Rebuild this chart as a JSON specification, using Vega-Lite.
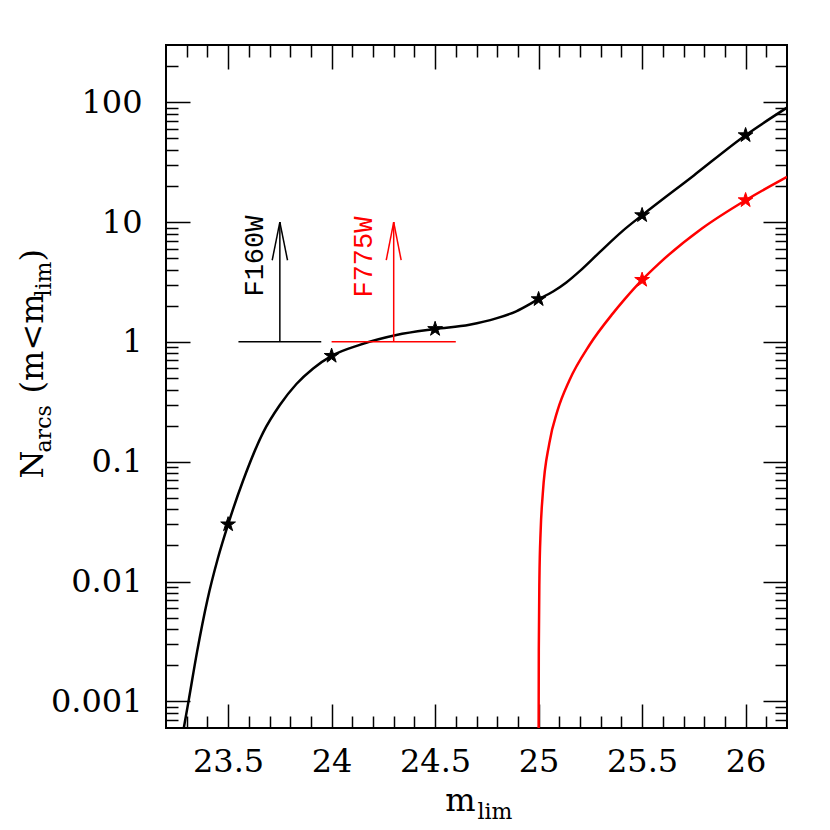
{
  "$schema": "https://vega.github.io/schema/vega-lite/v6.json",
  "width": 621,
  "height": 683,
  "autosize": {"type": "none"},
  "padding": {"left": 166, "top": 45, "right": 43, "bottom": 102},
  "background": "white",
  "config": {
    "view": {"stroke": "black", "strokeWidth": 2},
    "axis": {"grid": false, "domain": false, "tickColor": "black", "tickWidth": 1.5, "labelColor": "black", "titleColor": "black", "labelFont": "DejaVu Serif", "titleFont": "DejaVu Serif", "titleFontWeight": "normal", "labelOverlap": false, "labelFlush": false, "labelBound": false}
  },
  "datasets": {
    "curves": [
      {"m": 23.286, "n": 0.0006, "band": "F160W"},
      {"m": 23.31, "n": 0.00103, "band": "F160W"},
      {"m": 23.35, "n": 0.00259, "band": "F160W"},
      {"m": 23.4, "n": 0.00703, "band": "F160W"},
      {"m": 23.45, "n": 0.0155, "band": "F160W"},
      {"m": 23.5, "n": 0.03, "band": "F160W"},
      {"m": 23.573, "n": 0.07, "band": "F160W"},
      {"m": 23.669, "n": 0.175, "band": "F160W"},
      {"m": 23.75, "n": 0.297, "band": "F160W"},
      {"m": 23.83, "n": 0.445, "band": "F160W"},
      {"m": 23.911, "n": 0.6, "band": "F160W"},
      {"m": 24.0, "n": 0.764, "band": "F160W"},
      {"m": 24.136, "n": 0.944, "band": "F160W"},
      {"m": 24.313, "n": 1.14, "band": "F160W"},
      {"m": 24.5, "n": 1.28, "band": "F160W"},
      {"m": 24.666, "n": 1.39, "band": "F160W"},
      {"m": 24.795, "n": 1.57, "band": "F160W"},
      {"m": 24.892, "n": 1.8, "band": "F160W"},
      {"m": 25.0, "n": 2.27, "band": "F160W"},
      {"m": 25.07, "n": 2.63, "band": "F160W"},
      {"m": 25.134, "n": 3.13, "band": "F160W"},
      {"m": 25.2, "n": 3.91, "band": "F160W"},
      {"m": 25.294, "n": 5.58, "band": "F160W"},
      {"m": 25.405, "n": 8.4, "band": "F160W"},
      {"m": 25.5, "n": 11.4, "band": "F160W"},
      {"m": 25.75, "n": 24.5, "band": "F160W"},
      {"m": 26.0, "n": 53, "band": "F160W"},
      {"m": 26.2, "n": 90, "band": "F160W"},
      {"m": 25.000225, "n": 0.0006, "band": "F775W"},
      {"m": 25.001, "n": 0.00268, "band": "F775W"},
      {"m": 25.004, "n": 0.0107, "band": "F775W"},
      {"m": 25.01, "n": 0.0268, "band": "F775W"},
      {"m": 25.02, "n": 0.0535, "band": "F775W"},
      {"m": 25.052, "n": 0.143, "band": "F775W"},
      {"m": 25.092, "n": 0.269, "band": "F775W"},
      {"m": 25.149, "n": 0.479, "band": "F775W"},
      {"m": 25.245, "n": 0.937, "band": "F775W"},
      {"m": 25.358, "n": 1.72, "band": "F775W"},
      {"m": 25.414, "n": 2.25, "band": "F775W"},
      {"m": 25.5, "n": 3.29, "band": "F775W"},
      {"m": 25.58, "n": 4.48, "band": "F775W"},
      {"m": 25.789, "n": 8.83, "band": "F775W"},
      {"m": 26.0, "n": 15.2, "band": "F775W"},
      {"m": 26.176, "n": 22.6, "band": "F775W"},
      {"m": 26.2, "n": 23.8, "band": "F775W"}
    ],
    "stars": [
      {"m": 23.5, "n": 0.03, "band": "F160W"},
      {"m": 24.0, "n": 0.764, "band": "F160W"},
      {"m": 24.5, "n": 1.28, "band": "F160W"},
      {"m": 25.0, "n": 2.27, "band": "F160W"},
      {"m": 25.5, "n": 11.4, "band": "F160W"},
      {"m": 26.0, "n": 53, "band": "F160W"},
      {"m": 25.5, "n": 3.29, "band": "F775W"},
      {"m": 26.0, "n": 15.2, "band": "F775W"}
    ],
    "segments": [
      {"m": 23.55, "m2": 23.95, "n": 1, "n2": 1, "band": "F160W"},
      {"m": 23.75, "m2": 23.75, "n": 1, "n2": 10, "band": "F160W"},
      {"m": 23.75, "m2": 23.713, "n": 10, "n2": 4.8, "band": "F160W"},
      {"m": 23.75, "m2": 23.787, "n": 10, "n2": 4.8, "band": "F160W"},
      {"m": 24.0, "m2": 24.6, "n": 1, "n2": 1, "band": "F775W"},
      {"m": 24.3, "m2": 24.3, "n": 1, "n2": 10, "band": "F775W"},
      {"m": 24.3, "m2": 24.264, "n": 10, "n2": 4.8, "band": "F775W"},
      {"m": 24.3, "m2": 24.336, "n": 10, "n2": 4.8, "band": "F775W"}
    ],
    "labels": [
      {"m": 23.63, "n": 5.2, "band": "F160W"},
      {"m": 24.155, "n": 5.1, "band": "F775W"}
    ]
  },
  "resolve": {"axis": {"x": "independent", "y": "independent"}},
  "layer": [
    {
      "data": {"name": "curves"},
      "transform": [{"filter": "datum.band === 'F160W'"}],
      "mark": {"type": "line", "color": "black", "strokeWidth": 2.5, "interpolate": "monotone", "clip": true},
      "encoding": {
        "x": {"field": "m", "type": "quantitative", "scale": {"domain": [23.2, 26.2], "nice": false, "zero": false},
          "axis": {"orient": "bottom", "values": [23.5, 24, 24.5, 25, 25.5, 26], "format": "~g", "ticks": false, "labelPadding": 18, "labelFontSize": 32,
            "title": "m", "titleFontSize": 32, "titleX": 309, "titleY": 82, "titleAlign": "right", "titleBaseline": "alphabetic", "titleAngle": 0}},
        "y": {"field": "n", "type": "quantitative", "scale": {"type": "log", "domain": [0.0006, 300], "nice": false},
          "axis": {"orient": "left", "values": [0.001, 0.01, 0.1, 1, 10, 100], "format": ".3~f", "ticks": false, "labelPadding": 24, "labelFontSize": 32,
            "title": "N", "titleFontSize": 32, "titleX": -124, "titleY": 433, "titleAlign": "left", "titleBaseline": "alphabetic", "titleAngle": 270}}
      }
    },
    {
      "data": {"name": "curves"},
      "transform": [{"filter": "datum.band === 'F775W'"}],
      "mark": {"type": "line", "color": "#ff0000", "strokeWidth": 2.5, "interpolate": "monotone", "clip": true},
      "encoding": {
        "x": {"field": "m", "type": "quantitative", "scale": {"domain": [23.2, 26.2], "nice": false, "zero": false},
          "axis": {"orient": "bottom", "values": [23.5, 24, 24.5, 25, 25.5, 26], "labels": false, "tickSize": -24,
            "title": "lim", "titleFontSize": 22, "titleX": 311, "titleY": 90, "titleAlign": "left", "titleBaseline": "alphabetic", "titleAngle": 0}},
        "y": {"field": "n", "type": "quantitative", "scale": {"type": "log", "domain": [0.0006, 300], "nice": false},
          "axis": {"orient": "left", "values": [0.001, 0.01, 0.1, 1, 10, 100], "labels": false, "tickSize": -24,
            "title": "arcs", "titleFontSize": 22, "titleX": -116, "titleY": 407, "titleAlign": "left", "titleBaseline": "alphabetic", "titleAngle": 270}}
      }
    },
    {
      "data": {"name": "stars"},
      "transform": [{"filter": "datum.band === 'F160W'"}],
      "mark": {"type": "point", "filled": true, "color": "black", "opacity": 1, "size": 240, "strokeWidth": 1, "stroke": "black", "shape": "M0,-1L0.2245,-0.309L0.9511,-0.309L0.3633,0.118L0.5878,0.809L0,0.382L-0.5878,0.809L-0.3633,0.118L-0.9511,-0.309L-0.2245,-0.309Z"},
      "encoding": {
        "x": {"field": "m", "type": "quantitative", "scale": {"domain": [23.2, 26.2], "nice": false, "zero": false},
          "axis": {"orient": "bottom", "values": [23.3, 23.4, 23.6, 23.7, 23.8, 23.9, 24.1, 24.2, 24.3, 24.4, 24.6, 24.7, 24.8, 24.9, 25.1, 25.2, 25.3, 25.4, 25.6, 25.7, 25.8, 25.9, 26.1], "labels": false, "tickSize": -12, "title": null}},
        "y": {"field": "n", "type": "quantitative", "scale": {"type": "log", "domain": [0.0006, 300], "nice": false},
          "axis": {"orient": "left", "values": [0.0007, 0.0008, 0.0009, 0.002, 0.003, 0.004, 0.005, 0.006, 0.007, 0.008, 0.009, 0.02, 0.03, 0.04, 0.05, 0.06, 0.07, 0.08, 0.09, 0.2, 0.3, 0.4, 0.5, 0.6, 0.7, 0.8, 0.9, 2, 3, 4, 5, 6, 7, 8, 9, 20, 30, 40, 50, 60, 70, 80, 90, 200], "labels": false, "tickSize": -12,
            "title": "(m<m", "titleFontSize": 32, "titleX": -124, "titleY": 348, "titleAlign": "left", "titleBaseline": "alphabetic", "titleAngle": 270}}
      }
    },
    {
      "data": {"name": "stars"},
      "transform": [{"filter": "datum.band === 'F775W'"}],
      "mark": {"type": "point", "filled": true, "color": "#ff0000", "opacity": 1, "size": 240, "strokeWidth": 1, "stroke": "#ff0000", "shape": "M0,-1L0.2245,-0.309L0.9511,-0.309L0.3633,0.118L0.5878,0.809L0,0.382L-0.5878,0.809L-0.3633,0.118L-0.9511,-0.309L-0.2245,-0.309Z"},
      "encoding": {
        "x": {"field": "m", "type": "quantitative", "scale": {"domain": [23.2, 26.2], "nice": false, "zero": false},
          "axis": {"orient": "top", "values": [23.5, 24, 24.5, 25, 25.5, 26], "labels": false, "tickSize": -24, "title": null}},
        "y": {"field": "n", "type": "quantitative", "scale": {"type": "log", "domain": [0.0006, 300], "nice": false},
          "axis": {"orient": "left", "values": [], "labels": false, "ticks": false,
            "title": "lim", "titleFontSize": 22, "titleX": -116, "titleY": 251, "titleAlign": "left", "titleBaseline": "alphabetic", "titleAngle": 270}}
      }
    },
    {
      "data": {"name": "segments"},
      "transform": [{"filter": "datum.band === 'F160W'"}],
      "mark": {"type": "rule", "color": "black", "strokeWidth": 1.5},
      "encoding": {
        "x": {"field": "m", "type": "quantitative", "scale": {"domain": [23.2, 26.2], "nice": false, "zero": false},
          "axis": {"orient": "top", "values": [23.3, 23.4, 23.6, 23.7, 23.8, 23.9, 24.1, 24.2, 24.3, 24.4, 24.6, 24.7, 24.8, 24.9, 25.1, 25.2, 25.3, 25.4, 25.6, 25.7, 25.8, 25.9, 26.1], "labels": false, "tickSize": -12, "title": null}},
        "x2": {"field": "m2"},
        "y": {"field": "n", "type": "quantitative", "scale": {"type": "log", "domain": [0.0006, 300], "nice": false},
          "axis": {"orient": "left", "values": [], "labels": false, "ticks": false,
            "title": ")", "titleFontSize": 32, "titleX": -124, "titleY": 216, "titleAlign": "left", "titleBaseline": "alphabetic", "titleAngle": 270}},
        "y2": {"field": "n2"}
      }
    },
    {
      "data": {"name": "segments"},
      "transform": [{"filter": "datum.band === 'F775W'"}],
      "mark": {"type": "rule", "color": "#ff0000", "strokeWidth": 1.5},
      "encoding": {
        "x": {"field": "m", "type": "quantitative", "scale": {"domain": [23.2, 26.2], "nice": false, "zero": false}, "axis": null},
        "x2": {"field": "m2"},
        "y": {"field": "n", "type": "quantitative", "scale": {"type": "log", "domain": [0.0006, 300], "nice": false},
          "axis": {"orient": "right", "values": [0.001, 0.01, 0.1, 1, 10, 100], "labels": false, "tickSize": -24, "title": null}},
        "y2": {"field": "n2"}
      }
    },
    {
      "data": {"name": "labels"},
      "transform": [{"filter": "datum.band === 'F160W'"}],
      "mark": {"type": "text", "color": "black", "font": "Liberation Mono", "fontSize": 27, "angle": 270, "align": "center", "baseline": "middle"},
      "encoding": {
        "x": {"field": "m", "type": "quantitative", "scale": {"domain": [23.2, 26.2], "nice": false, "zero": false}, "axis": null},
        "y": {"field": "n", "type": "quantitative", "scale": {"type": "log", "domain": [0.0006, 300], "nice": false},
          "axis": {"orient": "right", "values": [0.0007, 0.0008, 0.0009, 0.002, 0.003, 0.004, 0.005, 0.006, 0.007, 0.008, 0.009, 0.02, 0.03, 0.04, 0.05, 0.06, 0.07, 0.08, 0.09, 0.2, 0.3, 0.4, 0.5, 0.6, 0.7, 0.8, 0.9, 2, 3, 4, 5, 6, 7, 8, 9, 20, 30, 40, 50, 60, 70, 80, 90, 200], "labels": false, "tickSize": -12, "title": null}},
        "text": {"field": "band"}
      }
    },
    {
      "data": {"name": "labels"},
      "transform": [{"filter": "datum.band === 'F775W'"}],
      "mark": {"type": "text", "color": "#ff0000", "font": "Liberation Mono", "fontSize": 27, "angle": 270, "align": "center", "baseline": "middle"},
      "encoding": {
        "x": {"field": "m", "type": "quantitative", "scale": {"domain": [23.2, 26.2], "nice": false, "zero": false}, "axis": null},
        "y": {"field": "n", "type": "quantitative", "scale": {"type": "log", "domain": [0.0006, 300], "nice": false}, "axis": null},
        "text": {"field": "band"}
      }
    }
  ]
}
